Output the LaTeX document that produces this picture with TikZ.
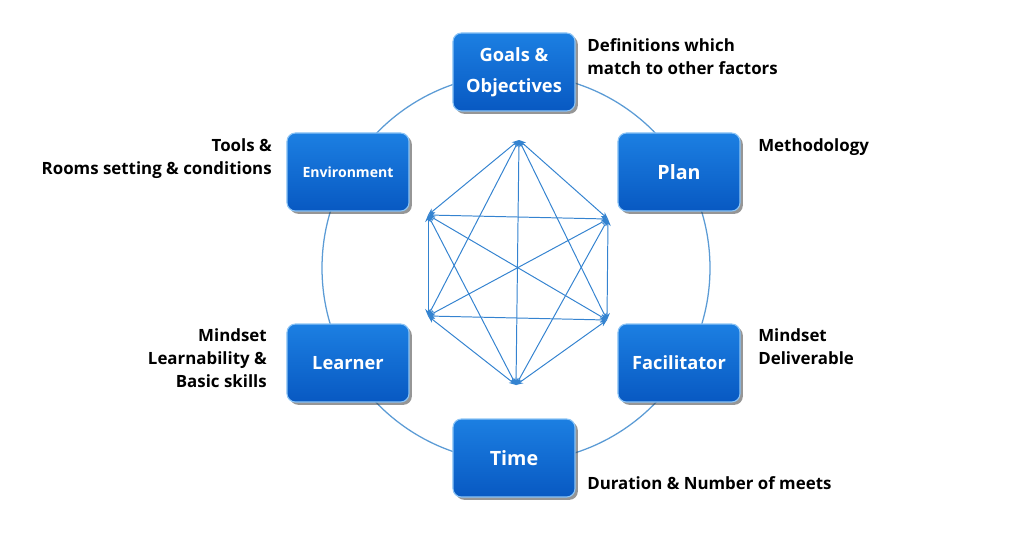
\documentclass[tikz,border=0pt]{standalone}
\usepackage{fontspec}
\setmainfont{Open Sans}
\usetikzlibrary{arrows.meta,shadows}
\definecolor{boxtop}{HTML}{1C7FE2}
\definecolor{boxbot}{HTML}{0859C2}
\definecolor{boxedge}{HTML}{8CC4F5}
\definecolor{ringblue}{HTML}{5B9BD5}
\definecolor{linkblue}{HTML}{3483D0}

\begin{document}
\begin{tikzpicture}[x=0.025cm,y=-0.025cm,
	box/.style={draw=boxedge,line width=0.8pt,rounded corners=6pt,top color=boxtop,bottom color=boxbot,minimum width=3.05cm,minimum height=1.95cm,text=white,align=center,font=\bfseries\fontsize{13}{22}\selectfont,drop shadow={shadow xshift=2pt,shadow yshift=-2pt,opacity=0.55,fill=black!75}},
	note/.style={font=\bfseries\fontsize{12}{16.4}\selectfont,inner sep=0pt},
	link/.style={draw=linkblue,line width=0.7pt,{Stealth[length=5pt,width=4pt]}-{Stealth[length=5pt,width=4pt]}}]
	\useasboundingbox (0,0) rectangle (1024,535);
	
	% outer ring
	\coordinate (c) at (516,268);
	\draw[ringblue,line width=0.9pt] (c) circle[radius=194];
	
	% the six factors
	\node[box] (goals) at (514,72) {Goals \&\\Objectives};
	\node[box,font=\bfseries\fontsize{14}{19}\selectfont] (plan) at (679,172) {Plan};
	\node[box] (fac) at (679,363) {Facilitator};
	\node[box,font=\bfseries\fontsize{14}{19}\selectfont] (time) at (514,458) {Time};
	\node[box] (learner) at (348,363) {Learner};
	\node[box,font=\bfseries\fontsize{10}{14}\selectfont] (env) at (348,172) {Environment};
	
	% notes
	\node[note,anchor=north west,align=left] (defs) at (587,38) {Definitions which\\match to other factors};
	\node[note,anchor=north west] (method) at (758,138) {Methodology};
	\node[note,anchor=north west,align=left] (facnote) at (758,328) {Mindset\\Deliverable};
	\node[note,anchor=north west] (dur) at (587,476) {Duration \& Number of meets};
	\node[note,anchor=north east,align=right] (lnote) at (267,328) {Mindset\\Learnability \&\\Basic skills};
	\node[note,anchor=north east,align=right] (tools) at (272,138) {Tools \&\\Rooms setting \& conditions};
	
	% inner links, all pairs
	\foreach \p/\x/\y in {t/519/140,ur/608/219,lr/607/320,b/516/385,ll/428/316,ul/428/215}
		\coordinate (\p) at (\x,\y);
	\foreach \a/\b in {t/ur,t/lr,t/b,t/ll,t/ul,ur/lr,ur/b,ur/ll,ur/ul,lr/b,lr/ll,lr/ul,b/ll,b/ul,ll/ul}
		\draw[link] (\a) -- (\b);
\end{tikzpicture}
\end{document}
